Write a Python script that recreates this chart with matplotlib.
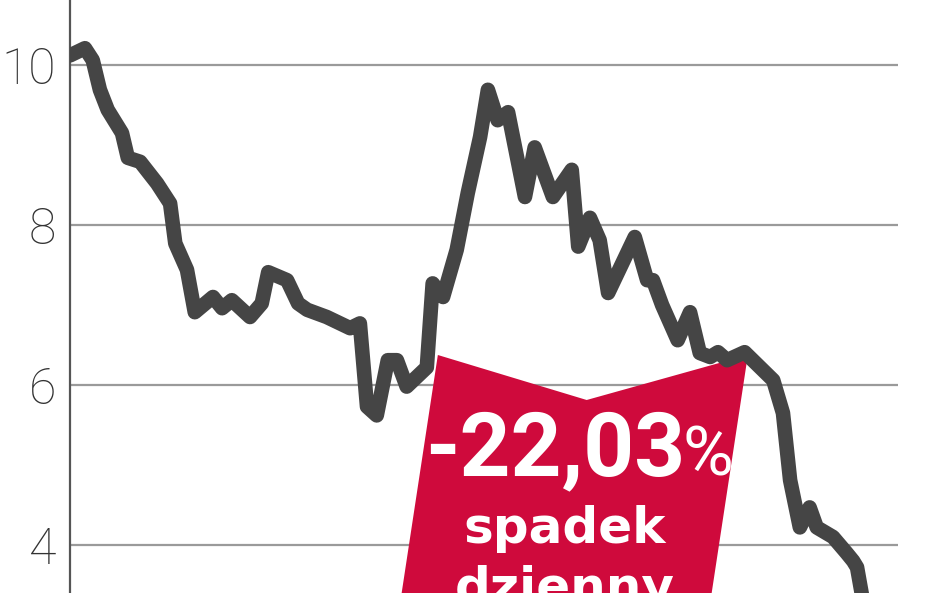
import matplotlib.pyplot as plt
from matplotlib.patches import Polygon

# notowania (kurs w zł) - dzień sesji i cena zamknięcia
day = [0, 2.3, 3.5, 4.6, 5.8, 8, 8.9, 10.8, 13.4, 15.4, 16.2, 18, 19.2, 22,
       23.4, 24.9, 27.7, 29.5, 30.5, 33.4, 35.1, 36.5, 39.5, 43.1, 44.6,
       45.7, 47.2, 48.9, 50.3, 51.8, 54.9, 55.8, 57.4, 59.5, 61.2, 63.1,
       64.3, 65.8, 67.4, 70, 71.5, 74.3, 77.2, 78.2, 80, 81.5, 82.8, 86.9,
       88.8, 89.7, 91.1, 93.5, 95.4, 96.9, 98.5, 99.7, 101.1, 103.8, 108.2,
       109.7, 110.8, 112.3, 113.8, 114.9, 117.4, 119.5, 120.5, 121.1, 121.8,
       122.3]
price = [10.12, 10.21, 10.06, 9.69, 9.44, 9.15, 8.84, 8.79, 8.52, 8.27,
         7.77, 7.44, 6.91, 7.10, 6.96, 7.06, 6.85, 7.02, 7.41, 7.31, 7.02,
         6.94, 6.85, 6.71, 6.77, 5.73, 5.62, 6.31, 6.31, 5.98, 6.22, 7.27,
         7.10, 7.69, 8.40, 9.10, 9.69, 9.31, 9.41, 8.35, 8.97, 8.35, 8.69,
         7.73, 8.09, 7.81, 7.15, 7.85, 7.31, 7.31, 7.00, 6.56, 6.91, 6.40,
         6.35, 6.41, 6.31, 6.41, 6.06, 5.65, 4.81, 4.22, 4.47, 4.22, 4.10,
         3.90, 3.80, 3.72, 3.40, 3.15]

yticks = [4, 6, 8, 10]
change_label = "-22,03"
desc_lines = ["spadek", "dzienny"]

fig = plt.figure(figsize=(9.48, 5.93), dpi=100)
ax = fig.add_axes([70 / 948, 0, 828 / 948, 1])

ax.set_xlim(0, 127.4)
ax.set_ylim(3.4, 10.8125)

# grid lines
for v in yticks:
    ax.axhline(v, color='#9a9a9a', lw=1.6, zorder=1)

# red badge
badge = Polygon([(56.6, 6.375), (79.5, 5.8125), (104.3, 6.375),
                 (97.4, 2.69), (49.7, 2.69)],
                closed=True, facecolor='#cf0a3c', edgecolor='none', zorder=2)
ax.add_patch(badge)

ax.plot(day, price, color='#454545', lw=10.5, solid_joinstyle='round',
        solid_capstyle='round', zorder=3)

ax.set_yticks(yticks)
ax.set_yticklabels([str(v) for v in yticks], fontsize=36,
                   family='Roboto', fontweight='light', color='#333333')
ax.tick_params(axis='y', length=0, pad=10)
ax.set_xticks([])
for s in ['top', 'right', 'bottom']:
    ax.spines[s].set_visible(False)
ax.spines['left'].set_color('#555555')
ax.spines['left'].set_linewidth(1.6)

fig.text(425 / 948, 1 - 475 / 593, change_label, color='white',
         fontsize=64, family='Roboto', fontweight='bold',
         ha='left', va='baseline', zorder=5)
fig.text(682 / 948, 1 - 475 / 593, "%", color='white',
         fontsize=50, family='Roboto', fontweight='normal',
         ha='left', va='baseline', zorder=5)
fig.text(565 / 948, 1 - 543 / 593, desc_lines[0], color='white',
         fontsize=36, family='DejaVu Sans', fontweight='bold',
         ha='center', va='baseline', zorder=5)
fig.text(565 / 948, 1 - 603 / 593, desc_lines[1], color='white',
         fontsize=36, family='DejaVu Sans', fontweight='bold',
         ha='center', va='baseline', zorder=5)

fig.savefig('out.png', dpi=100)
